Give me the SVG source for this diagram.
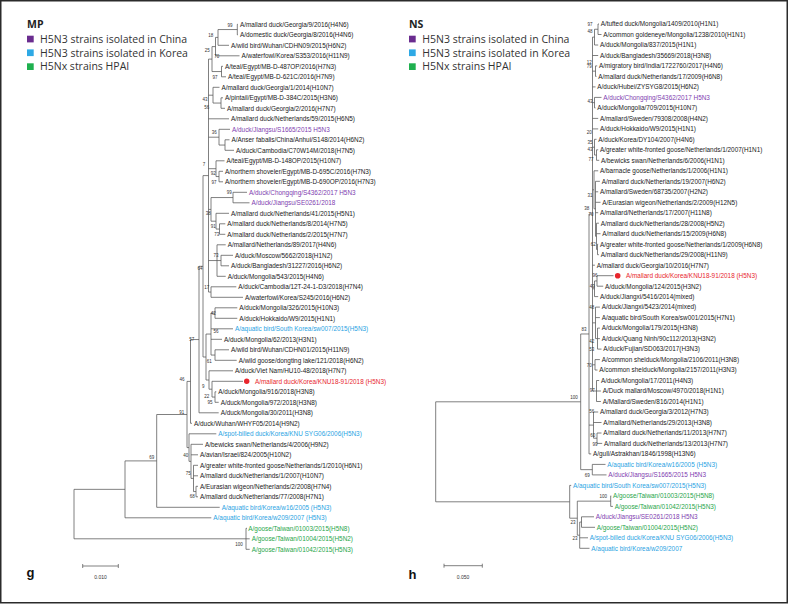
<svg xmlns="http://www.w3.org/2000/svg" width="788" height="604" viewBox="0 0 788 604">
<style>
.t{font-family:"Liberation Sans",Arial,sans-serif;font-size:6.4px;fill:#1a1a1a}
.b{font-family:"Liberation Sans",Arial,sans-serif;font-size:4.5px;fill:#333;text-anchor:middle}
.pu{fill:#8040b0}.bl{fill:#29a3e3}.gr{fill:#1fa64a}.rd{fill:#e8262d}
.lg{font-family:"Open Sans","Noto Sans",sans-serif;font-size:10.5px;fill:#333}
.hd{font-family:"Open Sans","Noto Sans",sans-serif;font-size:10.5px;font-weight:bold;fill:#222}
.pl{font-family:"Liberation Sans",Arial,sans-serif;font-size:13px;font-weight:bold;fill:#111}
.sc{font-family:"Liberation Sans",Arial,sans-serif;font-size:5px;fill:#333;text-anchor:middle}
.ln{fill:none;stroke:#555;stroke-width:0.75}
</style>
<rect x="0" y="0" width="788" height="604" fill="#fff"/>
<rect x="0.75" y="0.75" width="786.5" height="602" fill="none" stroke="#2b2b2b" stroke-width="1.5"/>

<g id="legend-g">
<text class="hd" x="27" y="28">MP</text>
<rect x="27" y="35.7" width="6.7" height="6.7" fill="#6a2c8f"/><text class="lg" x="40" y="42.7">H5N3 strains isolated in China</text>
<rect x="27" y="49.4" width="6.7" height="6.7" fill="#2ea9e5"/><text class="lg" x="40" y="56.6">H5N3 strains isolated in Korea</text>
<rect x="27" y="63.3" width="6.7" height="6.7" fill="#1fb04f"/><text class="lg" x="40" y="70.4">H5Nx strains HPAI</text>
</g>
<g id="legend-h">
<text class="hd" x="409" y="28">NS</text>
<rect x="409" y="35.7" width="6.7" height="6.7" fill="#6a2c8f"/><text class="lg" x="422.3" y="42.7">H5N3 strains isolated in China</text>
<rect x="409" y="49.4" width="6.7" height="6.7" fill="#2ea9e5"/><text class="lg" x="422.3" y="56.6">H5N3 strains isolated in Korea</text>
<rect x="409" y="63.3" width="6.7" height="6.7" fill="#1fb04f"/><text class="lg" x="422.3" y="70.4">H5Nx strains HPAI</text>
</g>

<g id="connectors">
<path class="ln" d="M237.3 24.3V34.8M237.3 24.3H238M237.3 34.8H238
M218 29.55V45.3M218 29.55H237.3M218 45.3H229
M215.5 37.4V55.8M215.5 37.4H218M215.5 55.8H239.5
M221.5 66.3V76.8M221.5 66.3H223M221.5 76.8H226
M212 46.6V71.55M212 46.6H215.5M212 71.55H221.5
M221 97.8V108.3M221 97.8H223M221 108.3H225
M213 87.3V103.05M213 87.3H219.5M213 103.05H221
M225 139.8V150.3M225 139.8H229.5M225 150.3H234
M219 129.3V145.05M219 129.3H230M219 145.05H225
M219 171.3V181.8M219 171.3H223M219 181.8H223
M216 160.8V176.55M216 160.8H224.5M216 176.55H219
M233 192.3V202.8M233 192.3H247M233 202.8H249.5
M219.5 223.8V234.3M219.5 223.8H225.3M219.5 234.3H225.3
M216 213.3V229.05M216 213.3H229M216 229.05H219.5
M211 197.55V221.2M211 197.55H233M211 221.2H216
M221 255.3V265.8M221 255.3H233M221 265.8H229
M217 244.8V276.3M217 244.8H225.7M217 260.55H221M217 276.3H225.7
M211 286.8V297.3M211 286.8H236.3M211 297.3H243
M208.5 59.1V292.05M208.5 59.1H212M208.5 95.2H213M208.5 118.8H229M208.5 137.2H219M208.5 168.7H216M208.5 209.4H211M208.5 260.55H217M208.5 292.05H211
M215 307.8V318.3M215 307.8H237.3M215 318.3H237.3
M215 349.8V360.3M215 349.8H229M215 360.3H236.7
M211 313.05V355.05M211 313.05H215M211 328.8H233M211 339.3H222M211 355.05H215
M215 391.8V402.3M215 391.8H216.3M215 402.3H218.7
M212 381.3V397.05M212 381.3H243M212 397.05H215
M209 370.8V389.2M209 370.8H233M209 389.2H212
M206 334.05V380M206 334.05H211M206 380H209
M203 175.6V357M203 175.6H208.5M203 357H206
M199 266.3V412.8M199 266.3H203M199 412.8H218.7
M190.5 339.55V423.3M190.5 339.55H199M190.5 423.3H192
M196 486.3V496.8M196 486.3H198M196 496.8H198
M193.5 465.3V491.55M193.5 465.3H198M193.5 475.8H198M193.5 491.55H196
M191 444.3V478.4M191 444.3H203M191 454.8H198M191 478.4H193.5
M189 433.8V461.35M189 433.8H216.3M189 461.35H191
M187 381.4V447.6M187 381.4H190.5M187 447.6H189
M156.7 414.5V507.3M156.7 414.5H187M156.7 507.3H219.7
M125 460.9V517.8M125 460.9H156.7M125 517.8H211.3
M246 528.3V549.3M246 528.3H247M246 538.8H249.7M246 549.3H249.7
M74 489.35V538.8M74 489.35H125M74 538.8H246"/>
<path class="ln" d="M598 24V34.5M598 24H599M598 34.5H601.5
M594.5 29.25V45M594.5 29.25H598M594.5 45H598.2
M595.5 65.9V76.4M595.5 65.9H597.2M595.5 76.4H596.5
M594.5 97.4V107.9M594.5 97.4H601.5M594.5 107.9H595.5
M596.5 149.8V160.3M596.5 149.8H598.2M596.5 160.3H599.2
M594.5 139.3V155.05M594.5 139.3H596.5M594.5 155.05H596.5
M597.5 244.2V254.7M597.5 244.2H598.2M597.5 254.7H598.9
M596.5 223.2V249.45M596.5 223.2H598.9M596.5 233.7H600.5M596.5 249.45H597.5
M595.5 181.3V236.3M595.5 181.3H599.9M595.5 191.8H598.2M595.5 202.3H600.5M595.5 212.7H598.2M595.5 236.3H596.5
M594 170.8V208.8M594 170.8H598.2M594 208.8H595.5
M597 275.7V286.2M597 275.7H613.5M597 286.2H603.2
M594.5 280.95V296.6M594.5 280.95H597M594.5 296.6H598.2
M597.5 328.1V349.1M597.5 328.1H599.9M597.5 338.6H599.9M597.5 349.1H601.5
M595.5 307.1V338.6M595.5 307.1H599.9M595.5 317.6H599.9M595.5 338.6H597.5
M595 359.6V370M595 359.6H599.9M595 370H597.5
M596.5 380.5V401.5M596.5 380.5H599.2M596.5 391H600.9M596.5 401.5H600.9
M592.5 37.1V391M592.5 37.1H594.5M592.5 55.5H598.2M592.5 71.15H595.5M592.5 86.9H595.5M592.5 102.65H594.5M592.5 118.4H598.2M592.5 128.9H598.2M592.5 147.2H594.5M592.5 189.8H594M592.5 265.2H594.9M592.5 288.8H594.5M592.5 322.85H595.5M592.5 364.8H595M592.5 391H596.5
M597 433V443.4M597 433H601.5M597 443.4H602.2
M593.5 412V438.2M593.5 412H598.2M593.5 422.5H601.5M593.5 438.2H597
M589 214.05V453.9M589 214.05H592.5M589 425.1H593.5M589 453.9H591.2
M592.3 464.4V474.9M592.3 464.4H605.5M592.3 474.9H606.5
M580.7 333.98V469.65M580.7 333.98H589M580.7 469.65H592.3
M610.7 495.9V506.4M610.7 495.9H611.2M610.7 506.4H612.9
M581.5 516.8V527.3M581.5 516.8H594M581.5 527.3H595
M579.7 522.05V548.3M579.7 522.05H581.5M579.7 537.8H588M579.7 548.3H589.5
M577.3 501.15V535.2M577.3 501.15H610.7M577.3 535.2H579.7
M569.7 485.4V518.2M569.7 485.4H571.2M569.7 518.2H577.3
M435.7 401.8V501.8M435.7 401.8H580.7M435.7 501.8H569.7"/>
</g>

<g id="bootstrap-g">
<text class="b" x="230" y="26.6">99</text><text class="b" x="210.7" y="36.6">18</text><text class="b" x="207.3" y="51.6">25</text><text class="b" x="216.7" y="58.3">70</text>
<text class="b" x="215" y="78.9">97</text><text class="b" x="205" y="100.9">43</text><text class="b" x="206.7" y="108.9">56</text><text class="b" x="214.3" y="134.3">36</text>
<text class="b" x="204" y="165.6">7</text><text class="b" x="213.3" y="174.6">92</text><text class="b" x="214" y="184.3">97</text><text class="b" x="229.3" y="194.3">99</text>
<text class="b" x="208.3" y="214.9">38</text><text class="b" x="213.3" y="227.6">91</text><text class="b" x="216.7" y="235.9">73</text><text class="b" x="216" y="256.9">73</text>
<text class="b" x="200" y="269.9">64</text><text class="b" x="206.7" y="288.9">17</text><text class="b" x="213.3" y="314.9">42</text><text class="b" x="216" y="333.3">56</text>
<text class="b" x="191.7" y="340.9">57</text><text class="b" x="209.3" y="363.3">61</text><text class="b" x="182" y="380.6">46</text><text class="b" x="203.3" y="387.6">9</text>
<text class="b" x="206.7" y="398.3">22</text><text class="b" x="210" y="403.6">95</text><text class="b" x="181.7" y="414.3">91</text><text class="b" x="185.7" y="457.3">40</text>
<text class="b" x="151.7" y="459.3">69</text><text class="b" x="188.3" y="474.9">75</text><text class="b" x="192.3" y="498.3">68</text><text class="b" x="239" y="545.6">100</text>
</g>
<g id="bootstrap-h">
<text class="b" x="590" y="25.6">97</text><text class="b" x="590" y="33.3">48</text><text class="b" x="589.3" y="64.3">12</text><text class="b" x="589.3" y="68.1">79</text>
<text class="b" x="590" y="103.3">43</text><text class="b" x="589.3" y="133.9">20</text><text class="b" x="590" y="144.3">35</text><text class="b" x="590" y="150.6">43</text>
<text class="b" x="591" y="160.9">77</text><text class="b" x="590" y="196.6">31</text><text class="b" x="586.7" y="209.9">38</text><text class="b" x="591" y="215.9">70</text>
<text class="b" x="593.3" y="245.9">62</text><text class="b" x="595" y="277.3">96</text><text class="b" x="592.3" y="288.3">49</text><text class="b" x="591.7" y="308.9">48</text>
<text class="b" x="584" y="330.6">83</text><text class="b" x="591.7" y="343.3">42</text><text class="b" x="591.7" y="350.9">53</text><text class="b" x="589.3" y="366.6">70</text>
<text class="b" x="592.3" y="392.3">97</text><text class="b" x="574" y="398.9">100</text><text class="b" x="591.7" y="413.3">56</text><text class="b" x="592.7" y="437.3">60</text>
<text class="b" x="595" y="445.6">99</text><text class="b" x="587.3" y="476.6">69</text><text class="b" x="603.3" y="498.3">100</text><text class="b" x="573" y="523.6">23</text>
<text class="b" x="575" y="539.9">23</text>
</g>

<g id="leaves-g">
<g id="gL01"><text class="t" x="240" y="26.6">A/mallard duck/Georgia/9/2016(H4N6)</text></g>
<g id="gL02"><text class="t" x="240" y="37.1">A/domestic duck/Georgia/8/2016(H4N6)</text></g>
<g id="gL03"><text class="t" x="231" y="47.6">A/wild bird/Wuhan/CDHN09/2015(H6N2)</text></g>
<g id="gL04"><text class="t" x="241.5" y="58.1">A/waterfowl/Korea/S353/2016(H11N9)</text></g>
<g id="gL05"><text class="t" x="225" y="68.6">A/teal/Egypt/MB-D-487OP/2016(H7N3)</text></g>
<g id="gL06"><text class="t" x="228" y="79.1">A/teal/Egypt/MB-D-621C/2016(H7N9)</text></g>
<g id="gL07"><text class="t" x="221.5" y="89.6">A/mallard duck/Georgia/1/2014(H10N7)</text></g>
<g id="gL08"><text class="t" x="225" y="100.1">A/pintail/Egypt/MB-D-384C/2015(H3N6)</text></g>
<g id="gL09"><text class="t" x="227" y="110.6">A/mallard duck/Georgia/2/2016(H7N7)</text></g>
<g id="gL10"><text class="t" x="231" y="121.1">A/mallard duck/Netherlands/59/2015(H6N5)</text></g>
<g id="gL11"><text class="t pu" x="232" y="131.6">A/duck/Jiangsu/S1665/2015 H5N3</text></g>
<g id="gL12"><text class="t" x="231.5" y="142.1">A/Anser fabalis/China/Anhui/S148/2014(H6N2)</text></g>
<g id="gL13"><text class="t" x="236" y="152.6">A/duck/Cambodia/C70W14M/2018(H7N5)</text></g>
<g id="gL14"><text class="t" x="226.5" y="163.1">A/teal/Egypt/MB-D-148OP/2015(H10N7)</text></g>
<g id="gL15"><text class="t" x="225" y="173.6">A/northern shoveler/Egypt/MB-D-695C/2016(H7N3)</text></g>
<g id="gL16"><text class="t" x="225" y="184.1">A/northern shoveler/Egypt/MB-D-690OP/2016(H7N3)</text></g>
<g id="gL17"><text class="t pu" x="249" y="194.6">A/duck/Chongqing/S4362/2017 H5N3</text></g>
<g id="gL18"><text class="t pu" x="251.5" y="205.1">A/duck/Jiangsu/SE0261/2018</text></g>
<g id="gL19"><text class="t" x="231" y="215.6">A/mallard duck/Netherlands/41/2015(H5N1)</text></g>
<g id="gL20"><text class="t" x="227.3" y="226.1">A/mallard duck/Netherlands/8/2014(H7N5)</text></g>
<g id="gL21"><text class="t" x="227.3" y="236.6">A/mallard duck/Netherlands/2/2015(H7N7)</text></g>
<g id="gL22"><text class="t" x="227.7" y="247.1">A/mallard/Netherlands/89/2017(H4N6)</text></g>
<g id="gL23"><text class="t" x="235" y="257.6">A/duck/Moscow/5662/2018(H1N2)</text></g>
<g id="gL24"><text class="t" x="231" y="268.1">A/duck/Bangladesh/31227/2016(H6N2)</text></g>
<g id="gL25"><text class="t" x="227.7" y="278.6">A/duck/Mongolia/543/2015(H4N6)</text></g>
<g id="gL26"><text class="t" x="238.3" y="289.1">A/duck/Cambodia/12T-24-1-D3/2018(H7N4)</text></g>
<g id="gL27"><text class="t" x="245" y="299.6">A/waterfowl/Korea/S245/2016(H6N2)</text></g>
<g id="gL28"><text class="t" x="239.3" y="310.1">A/duck/Mongolia/326/2015(H10N3)</text></g>
<g id="gL29"><text class="t" x="239.3" y="320.6">A/duck/Hokkaido/W9/2015(H1N1)</text></g>
<g id="gL30"><text class="t bl" x="235" y="331.1">A/aquatic bird/South Korea/sw007/2015(H5N3)</text></g>
<g id="gL31"><text class="t" x="224" y="341.6">A/duck/Mongolia/62/2013(H3N1)</text></g>
<g id="gL32"><text class="t" x="231" y="352.1">A/wild bird/Wuhan/CDHN01/2015(H11N9)</text></g>
<g id="gL33"><text class="t" x="238.7" y="362.6">A/wild goose/dongting lake/121/2018(H6N2)</text></g>
<g id="gL34"><text class="t" x="235" y="373.1">A/duck/Viet Nam/HU10-48/2018(H7N7)</text></g>
<g id="gL35"><circle cx="246.7" cy="381.3" r="2.7" fill="#e8262d"/><text class="t rd" x="255" y="383.6">A/mallard duck/Korea/KNU18-91/2018 (H5N3)</text></g>
<g id="gL36"><text class="t" x="218.3" y="394.1">A/duck/Mongolia/916/2018(H3N8)</text></g>
<g id="gL37"><text class="t" x="220.7" y="404.6">A/duck/Mongolia/972/2018(H3N8)</text></g>
<g id="gL38"><text class="t" x="220.7" y="415.1">A/duck/Mongolia/30/2011(H3N8)</text></g>
<g id="gL39"><text class="t" x="194" y="425.6">A/duck/Wuhan/WHYF05/2014(H9N2)</text></g>
<g id="gL40"><text class="t bl" x="218.3" y="436.1">A/spot-billed duck/Korea/KNU SYG06/2006(H5N3)</text></g>
<g id="gL41"><text class="t" x="205" y="446.6">A/bewicks swan/Netherlands/4/2006(H9N2)</text></g>
<g id="gL42"><text class="t" x="200" y="457.1">A/avian/Israel/824/2005(H10N2)</text></g>
<g id="gL43"><text class="t" x="200" y="467.6">A/greater white-fronted goose/Netherlands/1/2010(H6N1)</text></g>
<g id="gL44"><text class="t" x="200" y="478.1">A/mallard duck/Netherlands/1/2007(H10N7)</text></g>
<g id="gL45"><text class="t" x="200" y="488.6">A/Eurasian wigeon/Netherlands/2/2008(H7N4)</text></g>
<g id="gL46"><text class="t" x="200" y="499.1">A/mallard duck/Netherlands/77/2008(H7N1)</text></g>
<g id="gL47"><text class="t bl" x="221.7" y="509.6">A/aquatic bird/Korea/w16/2005 (H5N3)</text></g>
<g id="gL48"><text class="t bl" x="213.3" y="520.1">A/aquatic bird/Korea/w209/2007 (H5N3)</text></g>
<g id="gL49"><text class="t gr" x="248.3" y="530.6">A/goose/Taiwan/01003/2015(H5N8)</text></g>
<g id="gL50"><text class="t gr" x="251.7" y="541.1">A/goose/Taiwan/01004/2015(H5N2)</text></g>
<g id="gL51"><text class="t gr" x="251.7" y="551.6">A/goose/Taiwan/01042/2015(H5N3)</text></g>
</g>

<g id="leaves-h">
<g id="hR01"><text class="t" x="600.7" y="26.3">A/tufted duck/Mongolia/1409/2010(H1N1)</text></g>
<g id="hR02"><text class="t" x="603.3" y="36.8">A/common goldeneye/Mongolia/1238/2010(H1N1)</text></g>
<g id="hR03"><text class="t" x="600" y="47.3">A/duck/Mongolia/837/2015(H1N1)</text></g>
<g id="hR04"><text class="t" x="600" y="57.8">A/duck/Bangladesh/35669/2018(H3N8)</text></g>
<g id="hR05"><text class="t" x="599" y="68.2">A/migratory bird/India/1722760/2017(H4N6)</text></g>
<g id="hR06"><text class="t" x="598.3" y="78.7">A/mallard duck/Netherlands/17/2009(H6N8)</text></g>
<g id="hR07"><text class="t" x="597.3" y="89.2">A/duck/Hubei/ZYSYG8/2015(H6N2)</text></g>
<g id="hR08"><text class="t pu" x="603.3" y="99.7">A/duck/Chongqing/S4362/2017 H5N3</text></g>
<g id="hR09"><text class="t" x="597.3" y="110.2">A/duck/Mongolia/709/2015(H10N7)</text></g>
<g id="hR10"><text class="t" x="600" y="120.7">A/mallard/Sweden/79308/2008(H4N2)</text></g>
<g id="hR11"><text class="t" x="600" y="131.2">A/duck/Hokkaido/W9/2015(H1N1)</text></g>
<g id="hR12"><text class="t" x="598.3" y="141.6">A/duck/Korea/DY104/2007(H4N6)</text></g>
<g id="hR13"><text class="t" x="600" y="152.1">A/greater white-fronted goose/Netherlands/1/2007(H1N1)</text></g>
<g id="hR14"><text class="t" x="601" y="162.6">A/bewicks swan/Netherlands/6/2006(H1N1)</text></g>
<g id="hR15"><text class="t" x="600" y="173.1">A/barnacle goose/Netherlands/1/2006(H1N1)</text></g>
<g id="hR16"><text class="t" x="601.7" y="183.6">A/mallard duck/Netherlands/19/2007(H6N2)</text></g>
<g id="hR17"><text class="t" x="600" y="194.1">A/mallard/Sweden/68735/2007(H2N2)</text></g>
<g id="hR18"><text class="t" x="602.3" y="204.6">A/Eurasian wigeon/Netherlands/2/2009(H12N5)</text></g>
<g id="hR19"><text class="t" x="600" y="215">A/mallard/Netherlands/17/2007(H11N8)</text></g>
<g id="hR20"><text class="t" x="600.7" y="225.5">A/mallard duck/Netherlands/28/2008(H5N2)</text></g>
<g id="hR21"><text class="t" x="602.3" y="236">A/mallard duck/Netherlands/15/2009(H6N8)</text></g>
<g id="hR22"><text class="t" x="600" y="246.5">A/greater white-fronted goose/Netherlands/1/2009(H6N8)</text></g>
<g id="hR23"><text class="t" x="600.7" y="257">A/mallard duck/Netherlands/29/2008(H11N9)</text></g>
<g id="hR24"><text class="t" x="596.7" y="267.5">A/mallard duck/Georgia/10/2016(H7N7)</text></g>
<g id="hR25"><circle cx="617.7" cy="275.7" r="2.8" fill="#e8262d"/><text class="t rd" x="626" y="278">A/mallard duck/Korea/KNU18-91/2018 (H5N3)</text></g>
<g id="hR26"><text class="t" x="605" y="288.5">A/duck/Mongolia/124/2015(H3N2)</text></g>
<g id="hR27"><text class="t" x="600" y="298.9">A/duck/Jiangxi/5416/2014(mixed)</text></g>
<g id="hR28"><text class="t" x="601.7" y="309.4">A/duck/Jiangxi/5423/2014(mixed)</text></g>
<g id="hR29"><text class="t" x="601.7" y="319.9">A/aquatic bird/South Korea/sw001/2015(H7N1)</text></g>
<g id="hR30"><text class="t" x="601.7" y="330.4">A/duck/Mongolia/179/2015(H3N8)</text></g>
<g id="hR31"><text class="t" x="601.7" y="340.9">A/duck/Quang Ninh/90c112/2013(H3N2)</text></g>
<g id="hR32"><text class="t" x="603.3" y="351.4">A/duck/Fujian/SD063/2017(H3N3)</text></g>
<g id="hR33"><text class="t" x="601.7" y="361.9">A/common shelduck/Mongolia/2106/2011(H3N8)</text></g>
<g id="hR34"><text class="t" x="599.3" y="372.3">A/common shelduck/Mongolia/2157/2011(H3N3)</text></g>
<g id="hR35"><text class="t" x="601" y="382.8">A/duck/Mongolia/17/2011(H4N3)</text></g>
<g id="hR36"><text class="t" x="602.7" y="393.3">A/Duck mallard/Moscow/4970/2018(H1N1)</text></g>
<g id="hR37"><text class="t" x="602.7" y="403.8">A/Mallard/Sweden/816/2014(H1N1)</text></g>
<g id="hR38"><text class="t" x="600" y="414.3">A/mallard duck/Georgia/3/2012(H7N3)</text></g>
<g id="hR39"><text class="t" x="603.3" y="424.8">A/mallard/Netherlands/29/2013(H3N8)</text></g>
<g id="hR40"><text class="t" x="603.3" y="435.3">A/mallard duck/Netherlands/11/2013(H7N7)</text></g>
<g id="hR41"><text class="t" x="604" y="445.7">A/mallard duck/Netherlands/13/2013(H7N7)</text></g>
<g id="hR42"><text class="t" x="593" y="456.2">A/gull/Astrakhan/1846/1998(H13N6)</text></g>
<g id="hR43"><text class="t bl" x="607.3" y="466.7">A/aquatic bird/Korea/w16/2005 (H5N3)</text></g>
<g id="hR44"><text class="t pu" x="608.3" y="477.2">A/duck/Jiangsu/S1665/2015 H5N3</text></g>
<g id="hR45"><text class="t bl" x="573" y="487.7">A/aquatic bird/South Korea/sw007/2015(H5N3)</text></g>
<g id="hR46"><text class="t gr" x="613" y="498.2">A/goose/Taiwan/01003/2015(H5N8)</text></g>
<g id="hR47"><text class="t gr" x="614.7" y="508.7">A/goose/Taiwan/01042/2015(H5N3)</text></g>
<g id="hR48"><text class="t pu" x="595.7" y="519.1">A/duck/Jiangsu/SE0261/2018 H5N3</text></g>
<g id="hR49"><text class="t gr" x="596.7" y="529.6">A/goose/Taiwan/01004/2015(H5N2)</text></g>
<g id="hR50"><text class="t bl" x="589.7" y="540.1">A/spot-billed duck/Korea/KNU SYG06/2006(H5N3)</text></g>
<g id="hR51"><text class="t bl" x="591.3" y="550.6">A/aquatic bird/Korea/w209/2007</text></g>
</g>

<g id="scale-g">
<path class="ln" d="M82.7 566H118.3M82.7 564V568M118.3 564V568"/>
<text class="sc" x="100.5" y="578.5">0.010</text>
<text class="pl" x="26.5" y="576.5">g</text>
</g>
<g id="scale-h">
<path class="ln" d="M444 565.7H482.3M444 563.7V567.7M482.3 563.7V567.7"/>
<text class="sc" x="463" y="578.5">0.050</text>
<text class="pl" x="408.5" y="579">h</text>
</g>
</svg>
